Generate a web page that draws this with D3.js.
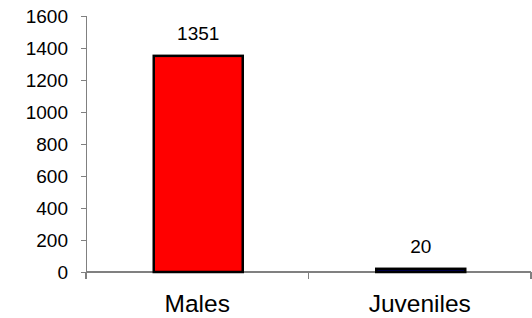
<!DOCTYPE html>
<html lang="en">
<head>
    <meta charset="UTF-8">
    <title>Males vs Juveniles</title>
    <script src="https://d3js.org/d3.v7.min.js"></script>
    <style>
        body { margin: 0; background: #fff; font-family: Arial, "Liberation Sans", sans-serif; }
        .axis path, .axis line { stroke: #808080; stroke-width: 1.5; shape-rendering: crispEdges; }
        .axis text { fill: #000; }
    </style>
</head>
<body>
    <div id="chart"></div>
    <script>
        // data
        const categories = ["Males", "Juveniles"];
        const values = [1351, 20];
        const barColors = ["#ff0000", "#000066"];
        const yTicks = [0, 200, 400, 600, 800, 1000, 1200, 1400, 1600];

        const W = 532, H = 318;
        const margin = { top: 16, right: 1, bottom: 46, left: 86 };
        const width = W - margin.left - margin.right,
              height = H - margin.top - margin.bottom;

        const svg = d3.select("#chart").append("svg")
            .attr("width", W).attr("height", H)
            .append("g")
            .attr("transform", `translate(${margin.left},${margin.top})`);

        const x = d3.scaleBand().domain(categories).range([0, width]).paddingInner(0).paddingOuter(0);
        const y = d3.scaleLinear().domain([0, 1600]).range([height, 0]);

        // y axis
        const yAxis = svg.append("g").attr("class", "axis")
            .call(d3.axisLeft(y).tickValues(yTicks).tickFormat(d3.format("d"))
                .tickSize(5).tickSizeOuter(5).tickPadding(13));
        yAxis.selectAll("text").style("font-size", "19px");

        // x axis: ticks at band edges
        const xAxis = svg.append("g").attr("class", "axis")
            .attr("transform", `translate(0,${height})`);
        xAxis.append("line").attr("x1", 0).attr("x2", width).attr("y1", 0).attr("y2", 0);
        const edges = [0, x.step(), width];
        xAxis.selectAll(".edge").data(edges).enter().append("line")
            .attr("class", "edge")
            .attr("x1", d => d).attr("x2", d => d)
            .attr("y1", 0).attr("y2", 7);
        xAxis.selectAll(".cat").data(categories).enter().append("text")
            .attr("class", "cat")
            .attr("x", d => x(d) + x.bandwidth() / 2)
            .attr("y", 40)
            .attr("text-anchor", "middle")
            .style("font-size", "24.5px")
            .text(d => d);

        // bars
        const barW = 89;
        const data = categories.map((c, i) => ({ c, v: values[i], col: barColors[i] }));
        svg.selectAll(".bar").data(data).enter().append("rect")
            .attr("class", "bar")
            .attr("x", d => x(d.c) + x.bandwidth() / 2 - barW / 2 + 1)
            .attr("y", d => y(d.v))
            .attr("width", barW)
            .attr("height", d => height - y(d.v))
            .attr("fill", d => d.col)
            .attr("stroke", "#000")
            .attr("stroke-width", 2.5);

        // value labels
        svg.selectAll(".val").data(data).enter().append("text")
            .attr("class", "val")
            .attr("x", d => x(d.c) + x.bandwidth() / 2 + 1)
            .attr("y", d => y(d.v) - 16)
            .attr("text-anchor", "middle")
            .style("font-size", "19px")
            .text(d => d.v);
    </script>
</body>
</html>
